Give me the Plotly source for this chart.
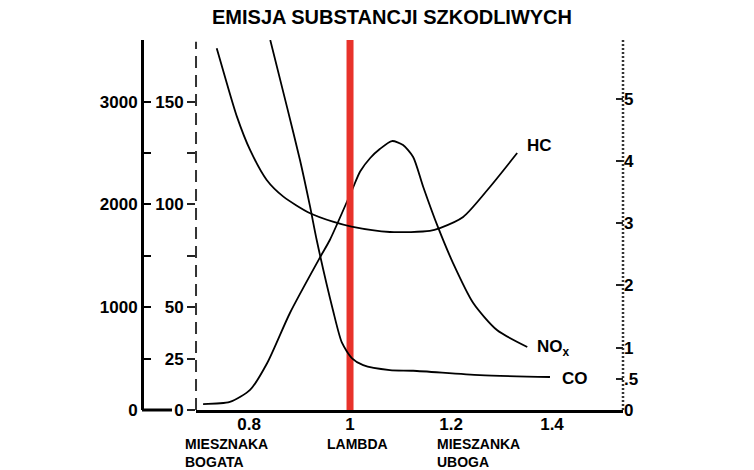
import plotly.graph_objects as go

# --- data ---
# NOx (ppm, left 0-3000 scale)
lambda_nox = [0.709, 0.762, 0.802, 0.836, 0.881, 0.941, 0.960, 1.004, 1.020, 1.040,
              1.059, 1.083, 1.105, 1.125, 1.145, 1.174, 1.204, 1.244, 1.291, 1.351]
nox_ppm = [58, 78, 195, 457, 944, 1489, 1654, 2140, 2320, 2452,
           2539, 2617, 2578, 2462, 2170, 1781, 1430, 1041, 778, 613]

# HC (ppm, inner 0-150 scale)
lambda_hc = [0.736, 0.756, 0.776, 0.802, 0.835, 0.868, 0.921, 0.966, 1.003, 1.079,
             1.158, 1.178, 1.224, 1.277, 1.331]
hc_ppm = [176, 158.9, 142.7, 126.5, 111.9, 103.8, 95.7, 91.6, 89.2, 86.6,
          87.1, 88.5, 93.9, 108.5, 125]

# CO (%, right 0-5 scale)
lambda_co = [0.842, 0.875, 0.901, 0.921, 0.934, 0.966, 0.984, 1.004, 1.026, 1.079,
             1.125, 1.257, 1.396]
co_pct = [5.94, 4.87, 4.01, 3.26, 2.73, 1.61, 1.08, 0.83, 0.72, 0.64,
          0.63, 0.56, 0.53]

# stoichiometric line
lambda_stoich = [1.0, 1.0]
stoich_y = [0, 3600]

x_tickvals = [0.8, 1.0, 1.2, 1.4]
x_ticktext = ["0.8", "1", "1.2", "1.4"]
y1_tickvals = [0, 500, 1000, 1500, 2000, 2500, 3000]
y1_ticktext = ["0", "", "1000", "", "2000", "", "3000"]
y2_tickvals = [0, 25, 50, 75, 100, 125, 150]
y2_ticktext = ["0", "25", "50", "", "100", "", "150"]
y3_tickvals = [0, 0.5, 1, 2, 3, 4, 5]
y3_ticktext = ["0", ".5", "1", "2", "3", "4", "5"]

FONT = "Liberation Sans, Arial, sans-serif"
BOLD17 = dict(family=FONT, size=17, color="black", weight="bold")
BOLD14 = dict(family=FONT, size=14, color="black", weight="bold")

# page body adds an 8px offset, so the figure is 8px smaller than the window
W, H = 746, 462

fig = go.Figure()
line_style = dict(color="black", width=1.8, shape="spline", smoothing=0.7)
fig.add_trace(go.Scatter(x=lambda_nox, y=nox_ppm, mode="lines", line=line_style,
                         yaxis="y", hoverinfo="skip"))
fig.add_trace(go.Scatter(x=lambda_hc, y=hc_ppm, mode="lines", line=line_style,
                         yaxis="y2", hoverinfo="skip"))
fig.add_trace(go.Scatter(x=lambda_co, y=co_pct, mode="lines", line=line_style,
                         yaxis="y3", hoverinfo="skip"))
fig.add_trace(go.Scatter(x=lambda_stoich, y=stoich_y, mode="lines",
                         line=dict(color="#e8322b", width=7),
                         yaxis="y", hoverinfo="skip"))

fig.update_layout(
    template="none",
    width=W, height=H,
    margin=dict(l=134, r=131, t=32, b=60, pad=0),
    paper_bgcolor="white", plot_bgcolor="white",
    showlegend=False,
    font=dict(family=FONT, color="black"),
    title=dict(text="EMISJA SUBSTANCJI SZKODLIWYCH", xref="container", x=384 / W,
               xanchor="center", yref="container", y=1 - 9 / H, yanchor="middle",
               automargin=False,
               font=dict(family=FONT, size=20, color="black", weight="bold")),
    xaxis=dict(domain=[0.1123, 1], range=[0.695, 1.5406], anchor="y", automargin=False,
               showgrid=False, zeroline=False, showline=True, linecolor="black",
               linewidth=3, ticks="", tickvals=x_tickvals, ticktext=x_ticktext,
               tickfont=BOLD17, ticklabelstandoff=-3),
    yaxis=dict(range=[0, 3600], anchor="free", position=0, side="left", automargin=False,
               showgrid=False, zeroline=False, showline=True, linecolor="black",
               linewidth=3, ticks="inside", ticklen=7, tickwidth=2, tickcolor="black",
               tickvals=y1_tickvals, ticktext=y1_ticktext, tickfont=BOLD17),
    yaxis2=dict(range=[0, 180], overlaying="y", anchor="x", side="left", automargin=False,
                showgrid=False, zeroline=False, showline=False,
                ticks="outside", ticklen=8, tickwidth=2, tickcolor="#222",
                tickvals=y2_tickvals, ticktext=y2_ticktext, tickfont=BOLD17),
    yaxis3=dict(range=[0, 5.94], overlaying="y", anchor="x", side="right", automargin=False,
                showgrid=False, zeroline=False, showline=False,
                ticks="inside", ticklen=7, tickwidth=2, tickcolor="#222",
                tickvals=y3_tickvals, ticktext=y3_ticktext, tickfont=BOLD17),
    shapes=[
        dict(type="line", xref="x domain", x0=0, x1=0, yref="y domain", y0=0, y1=0.995,
             line=dict(color="#333", width=2, dash="12px,7px"), layer="below"),
        dict(type="line", xref="x domain", x0=1, x1=1, yref="y domain", y0=0, y1=1,
             line=dict(color="#333", width=2.5, dash="2px,2px"), layer="below"),
        dict(type="line", xref="paper", x0=0, x1=30 / 481, yref="y domain", y0=0, y1=0,
             line=dict(color="black", width=3)),
    ],
    annotations=[
        dict(text="HC", x=1.3465, y=128.9, xref="x", yref="y2", xanchor="left",
             yanchor="middle", showarrow=False, font=BOLD17),
        dict(text="NO<sub>x</sub>", x=1.366, y=603, xref="x", yref="y", xanchor="left",
             yanchor="middle", showarrow=False, font=BOLD17),
        dict(text="CO", x=1.416, y=0.50, xref="x", yref="y3", xanchor="left",
             yanchor="middle", showarrow=False, font=BOLD17),
        dict(text="MIESZNAKA<br>BOGATA", x=(183 - 142) / 481, y=-0.065, xref="paper",
             yref="paper", xanchor="left", yanchor="top", align="left", showarrow=False,
             font=BOLD14),
        dict(text="LAMBDA", x=(357 - 142) / 481, y=-0.065, xref="paper",
             yref="paper", xanchor="center", yanchor="top", align="center", showarrow=False,
             font=BOLD14),
        dict(text="MIESZANKA<br>UBOGA", x=(435 - 142) / 481, y=-0.065, xref="paper",
             yref="paper", xanchor="left", yanchor="top", align="left", showarrow=False,
             font=BOLD14),
    ],
)

fig.write_html("out.html")
